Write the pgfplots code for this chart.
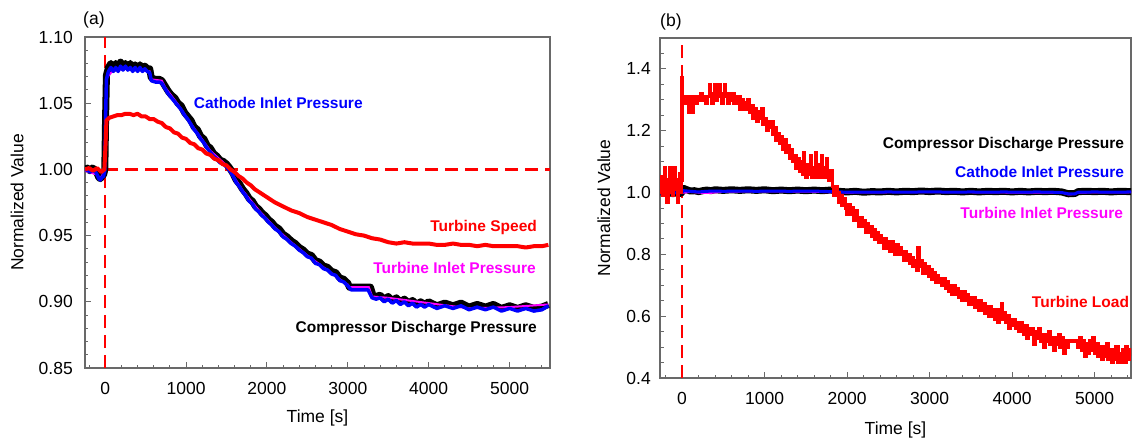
\documentclass[border=0pt]{standalone}
\usepackage{fontspec}
\setmainfont{Liberation Sans}
\usepackage{pgfplots}
\usepackage{pgfplotstable}
\pgfplotsset{compat=1.18}
\definecolor{rd}{RGB}{255,0,0}
\definecolor{bl}{RGB}{0,0,255}
\definecolor{mg}{RGB}{255,0,255}
\definecolor{spine}{RGB}{105,105,105}
\newcommand{\tfont}{\fontsize{17.5}{21}\selectfont}
\newcommand{\bfont}{\fontsize{15.5}{18}\selectfont\bfseries}
\pgfplotstableread{
x y
-267 1.00
-250 1.05
-240 0.99
-225 1.04
-215 1.08
-205 1.01
-190 1.04
-180 0.97
-170 1.03
-155 1.00
-145 1.08
-135 1.02
-120 1.05
-110 0.99
-100 1.04
-90 1.08
-80 1.01
-65 1.04
-55 0.97
-45 1.03
-30 1.06
-20 1.00
-10 1.04
0 1.37
8 1.31
20 1.29
40 1.31
55 1.29
70 1.31
85 1.26
95 1.31
110 1.29
125 1.26
135 1.30
150 1.31
170 1.29
190 1.31
210 1.30
230 1.32
250 1.30
270 1.31
290 1.29
310 1.31
330 1.35
340 1.31
360 1.29
380 1.32
400 1.35
410 1.30
430 1.32
450 1.35
460 1.31
480 1.29
500 1.32
520 1.35
530 1.31
550 1.29
570 1.32
590 1.30
610 1.32
630 1.29
650 1.31
670 1.29
690 1.31
700 1.27
720 1.30
740 1.27
760 1.29
780 1.27
800 1.30
820 1.26
840 1.28
860 1.24
880 1.27
900 1.23
920 1.26
940 1.24
960 1.27
980 1.22
1000 1.24
1020 1.20
1040 1.23
1060 1.21
1080 1.23
1100 1.19
1120 1.21
1140 1.17
1160 1.19
1180 1.16
1200 1.18
1220 1.14
1240 1.17
1260 1.13
1280 1.15
1300 1.11
1320 1.14
1340 1.10
1360 1.12
1380 1.08
1400 1.11
1420 1.07
1440 1.10
1460 1.06
1475 1.13
1485 1.07
1500 1.05
1520 1.09
1540 1.06
1555 1.12
1565 1.05
1580 1.08
1600 1.05
1615 1.13
1625 1.07
1640 1.05
1660 1.09
1680 1.06
1695 1.12
1705 1.05
1720 1.08
1740 1.05
1755 1.11
1765 1.06
1780 1.04
1800 1.07
1820 1.02
1840 0.99
1860 1.02
1880 1.00
1900 0.97
1920 0.99
1940 0.96
1960 0.98
1980 0.95
2000 0.93
2020 0.96
2040 0.93
2060 0.95
2080 0.91
2100 0.94
2120 0.91
2140 0.89
2160 0.92
2180 0.89
2200 0.91
2220 0.87
2240 0.90
2260 0.87
2280 0.89
2300 0.86
2320 0.88
2340 0.85
2360 0.87
2380 0.84
2400 0.86
2420 0.84
2440 0.82
2460 0.85
2480 0.82
2500 0.84
2520 0.81
2540 0.84
2560 0.82
2580 0.80
2600 0.83
2620 0.80
2640 0.82
2660 0.80
2680 0.78
2700 0.81
2720 0.78
2740 0.80
2760 0.77
2780 0.79
2800 0.76
2820 0.78
2840 0.75
2860 0.82
2870 0.76
2890 0.78
2910 0.74
2930 0.77
2950 0.74
2970 0.76
2990 0.73
3010 0.75
3030 0.72
3050 0.74
3070 0.71
3090 0.73
3110 0.71
3130 0.72
3150 0.70
3170 0.72
3190 0.69
3210 0.71
3230 0.68
3250 0.70
3270 0.67
3290 0.70
3310 0.67
3330 0.69
3350 0.66
3370 0.68
3390 0.65
3410 0.68
3430 0.65
3450 0.67
3470 0.64
3490 0.66
3510 0.64
3530 0.66
3550 0.63
3570 0.65
3590 0.62
3610 0.65
3630 0.62
3650 0.64
3670 0.61
3690 0.63
3710 0.60
3730 0.63
3750 0.60
3770 0.62
3790 0.59
3810 0.62
3830 0.58
3850 0.61
3870 0.64
3880 0.59
3900 0.61
3920 0.58
3940 0.60
3960 0.56
3980 0.59
4000 0.57
4020 0.59
4040 0.56
4060 0.58
4080 0.55
4100 0.58
4120 0.56
4140 0.54
4160 0.57
4180 0.53
4200 0.56
4220 0.54
4240 0.56
4260 0.51
4280 0.55
4300 0.53
4320 0.56
4340 0.52
4360 0.54
4380 0.50
4400 0.54
4420 0.52
4440 0.55
4460 0.51
4480 0.53
4500 0.49
4520 0.53
4540 0.51
4560 0.54
4580 0.50
4600 0.53
4620 0.48
4640 0.52
4660 0.50
4680 0.52
4700 0.52
4740 0.52
4780 0.52
4800 0.50
4820 0.53
4840 0.49
4860 0.52
4880 0.47
4900 0.51
4920 0.48
4940 0.52
4960 0.49
4980 0.53
5000 0.48
5020 0.51
5040 0.47
5060 0.50
5080 0.46
5100 0.50
5120 0.47
5140 0.51
5160 0.46
5180 0.49
5200 0.45
5220 0.49
5240 0.46
5260 0.50
5280 0.45
5300 0.48
5320 0.45
5340 0.49
5360 0.45
5380 0.50
5400 0.46
5420 0.49
5440 0.47
}\turbineload
\pgfplotsset{
  common/.style={
    scale only axis,
    axis line style={draw=spine, line width=1.2pt},
    tick align=inside, tick pos=left,
    major tick length=6pt, minor tick length=3.5pt,
    every tick/.append style={draw=spine, line width=1pt},
    tick label style={font=\tfont},
    label style={font=\tfont},
    /pgf/number format/assume math mode=true,
    /pgf/number format/1000 sep={},
    xticklabel style={anchor=north, inner sep=0pt, yshift=-14pt},
    every axis title/.style={at={(axis description cs:0,1)}, anchor=west, inner sep=0pt, font=\tfont},
    xlabel={Time [s]}, ylabel={Normalized Value},
  },
}
\begin{document}
\begin{tikzpicture}
\useasboundingbox (0,0) rectangle (1134pt,-439pt);
% ---------------- (a) ----------------
\begin{axis}[common,
  at={(85pt,-37pt)}, anchor=north west, width=465pt, height=331pt,
  xmin=-250, xmax=5500, ymin=0.85, ymax=1.10,
  xtick={0,1000,...,5000}, minor xtick={-200,0,...,5400},
  ytick={0.85,0.9,0.95,1,1.05,1.1},
  minor ytick={0.86,0.87,0.88,0.89,0.91,0.92,0.93,0.94,0.96,0.97,0.98,0.99,1.01,1.02,1.03,1.04,1.06,1.07,1.08,1.09},
  yticklabel style={anchor=east, inner sep=0pt, xshift=-12pt, /pgf/number format/.cd, fixed, fixed zerofill, precision=2},
  xlabel style={at={(axis description cs:0.5,-0.151)}, anchor=center},
  ylabel style={at={(axis description cs:-0.146,0.5)}, anchor=center},
  title={(a)}, title style={xshift=-2pt, yshift=17pt},
]
\addplot[draw=rd, line width=2pt, dash pattern=on 13pt off 7pt] coordinates {(0,0.85) (0,1.10)};
\addplot[draw=rd, line width=2.2pt, dash pattern=on 13pt off 7pt] coordinates {(-250,1.0) (5500,1.0)};
% Compressor Discharge Pressure
\addplot[black, line width=7pt, line join=round] coordinates {
(-250,1.000) (-220,1.001) (-190,0.999) (-160,1.001) (-130,1.000) (-100,0.997) (-80,0.994) (-60,0.993) (-40,0.995) (-20,0.996) (-5,1.000)
(5,1.040) (15,1.071) (40,1.077) (70,1.080) (100,1.076) (130,1.080) (160,1.077) (190,1.081) (220,1.077) (250,1.080) (280,1.077) (310,1.080) (340,1.076) (370,1.079) (400,1.076) (430,1.079) (460,1.076) (490,1.078) (520,1.076) (550,1.076)
(570,1.069) (620,1.068) (670,1.068) (700,1.067) (740,1.063) (780,1.059) (820,1.056) (860,1.054) (900,1.050) (940,1.048) (980,1.043) (1020,1.040) (1060,1.037) (1100,1.032) (1140,1.030) (1180,1.025) (1220,1.023) (1260,1.018) (1300,1.016) (1340,1.012) (1380,1.010) (1420,1.007) (1460,1.006) (1500,1.004) (1540,1.001) (1580,0.997) (1620,0.992) (1660,0.989) (1700,0.985) (1740,0.982) (1780,0.978) (1820,0.976) (1860,0.972) (1900,0.970) (1940,0.967) (1980,0.965) (2020,0.962) (2060,0.960) (2100,0.957) (2150,0.955) (2200,0.951) (2250,0.949) (2300,0.946) (2350,0.944) (2400,0.941) (2450,0.939) (2500,0.936) (2550,0.935) (2600,0.931) (2650,0.930) (2700,0.927) (2750,0.926) (2800,0.923) (2850,0.922) (2900,0.918) (2950,0.917) (3000,0.914) (3020,0.911) (3280,0.911) (3310,0.905) (3350,0.904) (3400,0.905) (3450,0.902) (3500,0.904) (3550,0.901) (3600,0.903) (3650,0.900) (3700,0.902) (3750,0.899) (3800,0.901) (3850,0.898) (3900,0.900) (3950,0.898) (4000,0.900) (4100,0.897) (4200,0.899) (4300,0.897) (4400,0.899) (4500,0.896) (4600,0.898) (4700,0.896) (4800,0.898) (4900,0.895) (5000,0.897) (5100,0.895) (5200,0.897) (5300,0.895) (5400,0.896) (5480,0.898)
};
% Turbine Inlet Pressure
\addplot[mg, line width=2pt] coordinates {
(-250,0.999) (-100,0.996) (-60,0.993) (-5,0.999) (5,1.040) (15,1.069) (100,1.075) (300,1.076) (550,1.074) (570,1.068) (700,1.067) (740,1.062) (900,1.049) (1100,1.031) (1300,1.014) (1500,1.003) (1700,0.984) (1900,0.969) (2100,0.956) (2300,0.945) (2500,0.935) (2700,0.926) (2900,0.917) (3000,0.913) (3020,0.911) (3260,0.911) (3300,0.904) (3500,0.903) (4000,0.899) (4500,0.895) (5000,0.896) (5480,0.898)
};
% Cathode Inlet Pressure
\addplot[bl, line width=3.5pt, line join=round] coordinates {
(-250,0.999) (-220,1.000) (-190,0.998) (-160,0.999) (-130,0.999) (-100,0.996) (-80,0.993) (-60,0.992) (-40,0.994) (-20,0.995) (-5,0.999)
(5,1.040) (15,1.068) (40,1.074) (70,1.077) (100,1.074) (130,1.077) (160,1.074) (190,1.078) (220,1.075) (250,1.078) (280,1.075) (310,1.077) (340,1.074) (370,1.077) (400,1.074) (430,1.077) (460,1.074) (490,1.076) (520,1.074) (550,1.073)
(570,1.067) (620,1.066) (670,1.066) (700,1.065) (740,1.061) (780,1.057) (820,1.054) (860,1.051) (900,1.048) (940,1.045) (980,1.041) (1020,1.038) (1060,1.034) (1100,1.030) (1140,1.027) (1180,1.023) (1220,1.020) (1260,1.016) (1300,1.013) (1340,1.010) (1380,1.008) (1420,1.005) (1460,1.004) (1500,1.002) (1540,0.999) (1580,0.995) (1620,0.990) (1660,0.987) (1700,0.983) (1740,0.980) (1780,0.976) (1820,0.974) (1860,0.970) (1900,0.968) (1940,0.965) (1980,0.963) (2020,0.960) (2060,0.958) (2100,0.955) (2150,0.953) (2200,0.949) (2250,0.947) (2300,0.944) (2350,0.942) (2400,0.939) (2450,0.937) (2500,0.934) (2550,0.933) (2600,0.929) (2650,0.928) (2700,0.925) (2750,0.924) (2800,0.921) (2850,0.920) (2900,0.916) (2950,0.915) (3000,0.912) (3040,0.909) (3250,0.909) (3300,0.903) (3350,0.902) (3400,0.903) (3450,0.900) (3500,0.902) (3550,0.899) (3600,0.901) (3650,0.898) (3700,0.900) (3750,0.897) (3800,0.899) (3850,0.896) (3900,0.898) (3950,0.896) (4000,0.898) (4100,0.895) (4200,0.897) (4300,0.895) (4400,0.897) (4500,0.894) (4600,0.896) (4700,0.894) (4800,0.896) (4900,0.893) (5000,0.895) (5100,0.893) (5200,0.895) (5300,0.893) (5400,0.894) (5480,0.897)
};
% Turbine Speed
\addplot[rd, line width=4pt, line join=round] coordinates {
(-250,1.000) (-200,1.001) (-150,0.999) (-100,1.001) (-50,0.998) (-10,1.000) (5,1.020) (15,1.037) (50,1.039) (100,1.040) (150,1.041) (200,1.041) (250,1.042) (300,1.042) (350,1.041) (400,1.042) (450,1.040) (500,1.040) (550,1.038) (600,1.038) (650,1.036) (700,1.035) (750,1.032) (800,1.031) (850,1.028) (900,1.027) (950,1.024) (1000,1.023) (1050,1.020) (1100,1.019) (1150,1.016) (1200,1.015) (1250,1.012) (1300,1.011) (1350,1.008) (1400,1.007) (1450,1.004) (1500,1.003) (1550,1.000) (1600,0.998) (1650,0.995) (1700,0.993) (1750,0.990) (1800,0.988) (1850,0.985) (1900,0.983) (1950,0.981) (2000,0.979) (2100,0.975) (2200,0.972) (2300,0.969) (2400,0.967) (2500,0.964) (2600,0.962) (2700,0.960) (2800,0.958) (2900,0.955) (3000,0.953) (3100,0.951) (3200,0.950) (3300,0.948) (3400,0.947) (3500,0.945) (3600,0.944) (3700,0.945) (3800,0.944) (3900,0.944) (4000,0.944) (4100,0.943) (4200,0.943) (4300,0.944) (4400,0.943) (4500,0.943) (4600,0.942) (4700,0.943) (4800,0.942) (4900,0.942) (5000,0.942) (5100,0.942) (5200,0.941) (5300,0.942) (5400,0.942) (5480,0.943)
};
\node[anchor=west, inner sep=0pt, text=bl, font=\bfont] at (axis cs:1093,1.050) {Cathode Inlet Pressure};
\node[anchor=east, inner sep=0pt, text=rd, font=\bfont] at (axis cs:5340,0.9565) {Turbine Speed};
\node[anchor=east, inner sep=0pt, text=mg, font=\bfont] at (axis cs:5327,0.9255) {Turbine Inlet Pressure};
\node[anchor=east, inner sep=0pt, text=black, font=\bfont] at (axis cs:5340,0.880) {Compressor Discharge Pressure};
\end{axis}
% ---------------- (b) ----------------
\begin{axis}[common,
  at={(660pt,-38pt)}, anchor=north west, width=471pt, height=340pt,
  xmin=-267, xmax=5440, ymin=0.4, ymax=1.5,
  xtick={0,1000,...,5000}, minor xtick={-200,0,...,5400},
  ytick={0.4,0.6,0.8,1.0,1.2,1.4},
  minor ytick={0.45,0.5,0.55,0.65,0.7,0.75,0.85,0.9,0.95,1.05,1.1,1.15,1.25,1.3,1.35,1.45},
  yticklabel style={anchor=east, inner sep=0pt, xshift=-9pt, /pgf/number format/.cd, fixed, fixed zerofill, precision=1},
  xlabel style={at={(axis description cs:0.5,-0.153)}, anchor=center},
  ylabel style={at={(axis description cs:-0.119,0.5)}, anchor=center},
  title={(b)}, title style={yshift=16pt},
]
\addplot[draw=rd, line width=2pt, dash pattern=on 13pt off 7pt] coordinates {(0,0.4) (0,1.5)};
% Compressor Discharge Pressure
\addplot[black, line width=7pt, line join=round] coordinates {
(-267,0.998) (-230,1.001) (-190,0.997) (-150,1.000) (-110,0.996) (-70,1.000) (-30,0.997) (0,1.000) (15,1.014) (50,1.010) (100,1.005) (150,1.006) (200,1.003) (250,1.006) (300,1.008) (350,1.006) (400,1.009) (500,1.007) (600,1.009) (700,1.007) (800,1.009) (900,1.007) (1000,1.009) (1100,1.006) (1200,1.008) (1300,1.006) (1400,1.008) (1500,1.006) (1600,1.008) (1700,1.006) (1800,1.008) (1900,1.004) (2000,1.002) (2100,1.004) (2200,1.001) (2300,1.003) (2400,1.002) (2500,1.004) (2600,1.002) (2700,1.004) (2800,1.003) (2900,1.005) (3000,1.003) (3100,1.005) (3200,1.003) (3300,1.004) (3400,1.002) (3500,1.004) (3600,1.002) (3700,1.004) (3800,1.003) (3900,1.004) (4000,1.002) (4100,1.004) (4200,1.002) (4300,1.004) (4400,1.003) (4500,1.004) (4600,1.002) (4680,0.996) (4760,0.997) (4800,1.003) (4900,1.004) (5000,1.003) (5100,1.004) (5200,1.002) (5300,1.004) (5440,1.003)
};
% Turbine Inlet Pressure
\addplot[mg, line width=2pt] coordinates {
(-267,0.998) (0,0.999) (100,1.002) (250,0.999) (350,0.999) (500,1.003) (1000,1.004) (1500,1.003) (2000,1.000) (2500,1.001) (3000,1.001) (3500,1.001) (4000,1.000) (4600,1.000) (4680,0.994) (4760,0.995) (4800,1.000) (5440,1.001)
};
% Cathode Inlet Pressure
\addplot[bl, line width=3pt] coordinates {
(-267,0.999) (-200,1.000) (-100,0.999) (0,1.000) (20,1.006) (100,1.004) (200,1.002) (300,1.004) (400,1.005) (500,1.004) (700,1.005) (900,1.004) (1100,1.005) (1300,1.004) (1500,1.005) (1700,1.004) (1900,1.002) (2100,1.001) (2300,1.001) (2500,1.002) (2700,1.001) (2900,1.002) (3100,1.002) (3300,1.001) (3500,1.002) (3700,1.001) (3900,1.002) (4100,1.001) (4300,1.002) (4500,1.001) (4600,1.000) (4680,0.996) (4760,0.996) (4800,1.001) (5000,1.002) (5200,1.001) (5440,1.002)
};
% Turbine Load
\addplot[rd, line width=3.4pt, const plot] table[x=x, y=y] {\turbineload};
\node[anchor=east, inner sep=0pt, text=black, font=\bfont] at (axis cs:5358,1.155) {Compressor Discharge Pressure};
\node[anchor=east, inner sep=0pt, text=bl, font=\bfont] at (axis cs:5358,1.068) {Cathode Inlet Pressure};
\node[anchor=east, inner sep=0pt, text=mg, font=\bfont] at (axis cs:5345,0.935) {Turbine Inlet Pressure};
\node[anchor=east, inner sep=0pt, text=rd, font=\bfont] at (axis cs:5418,0.645) {Turbine Load};
\end{axis}
\end{tikzpicture}
\end{document}
